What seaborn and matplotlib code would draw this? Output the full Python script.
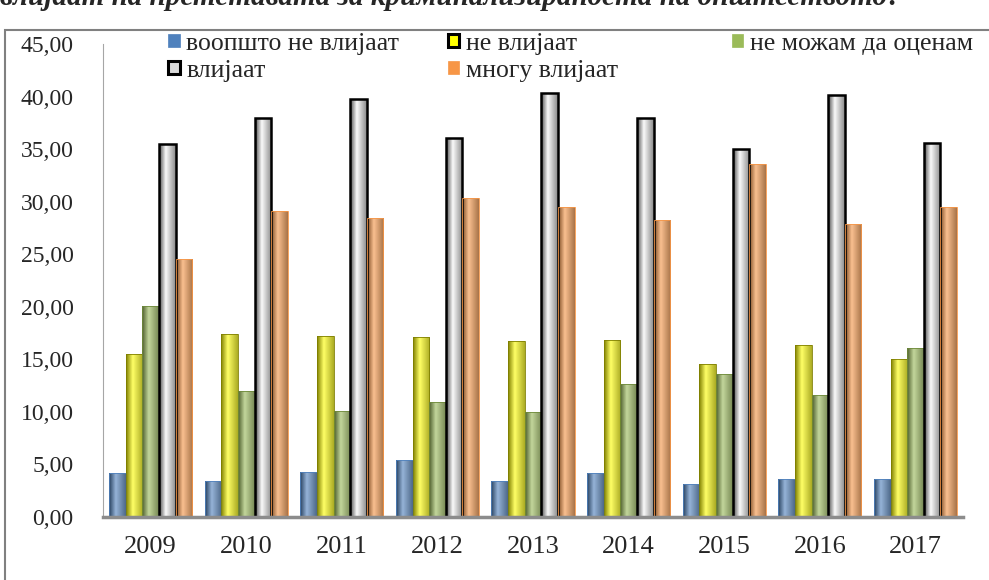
import numpy as np
import pandas as pd
import matplotlib.pyplot as plt
import matplotlib.colors as mcolors
from matplotlib.patches import Patch, Rectangle
import seaborn as sns

# data
years = ['2009', '2010', '2011', '2012', '2013', '2014', '2015', '2016', '2017']
categories = ['воопшто не влијаат', 'не влијаат', 'не можам да оценам', 'влијаат', 'многу влијаат']
vopsto_ne = [4.2, 3.4, 4.3, 5.4, 3.4, 4.2, 3.1, 3.6, 3.6]
ne_vlijaat = [15.5, 17.4, 17.2, 17.1, 16.7, 16.8, 14.5, 16.4, 15.0]
ne_mozam = [20.1, 12.0, 10.1, 10.9, 10.0, 12.6, 13.6, 11.6, 16.1]
vlijaat = [35.5, 38.0, 39.8, 36.1, 40.3, 38.0, 35.0, 40.2, 35.6]
mnogu = [24.5, 29.1, 28.4, 30.3, 29.5, 28.3, 33.6, 27.9, 29.5]

colors = ['#4F81BD', '#FFFF00', '#9BBB59', '#D9D9D9', '#F79646']
edges = ['#4F81BD', '#7F7F00', '#6E8A3A', '#000000', '#F79646']

rows = []
for cat, vals in zip(categories, [vopsto_ne, ne_vlijaat, ne_mozam, vlijaat, mnogu]):
    for y, v in zip(years, vals):
        rows.append({'year': y, 'category': cat, 'value': v})
df = pd.DataFrame(rows)

sns.set_style('white')
plt.rcParams['font.family'] = ['Liberation Serif', 'DejaVu Serif']
serif = {'family': ['Liberation Serif', 'DejaVu Serif'], 'size': 18.5}

fig = plt.figure(figsize=(9.89, 5.80), dpi=100)
ax = fig.add_axes([0.104, 0.109, 0.870, 0.815])

sns.barplot(data=df, x='year', y='value', hue='category', hue_order=categories,
            palette=colors, width=0.87, ax=ax, legend=False, saturation=1)

# cylinder-like shading for each bar
for cont, col, ec in zip(ax.containers, colors, edges):
    c = np.array(mcolors.to_rgb(col))
    if col == '#D9D9D9':
        c = np.array([0.97, 0.97, 0.97])
        dark = np.array([0.3, 0.3, 0.3])
    else:
        dark = c * 0.5
    light = c + (1 - c) * 0.4
    xs = np.linspace(0, 1, 60)
    prof = np.interp(xs, [0, 0.4, 1], [0, 1, 0.35])
    grad = dark[None, :] * (1 - prof[:, None]) + light[None, :] * prof[:, None]
    for bar in cont:
        x0, w, h = bar.get_x(), bar.get_width(), bar.get_height()
        im = ax.imshow(grad[None, :, :], extent=[x0, x0 + w, 0, h], aspect='auto',
                       zorder=bar.get_zorder() + 0.1)
        im.set_clip_path(bar)
        lw = 1.8 if col == '#D9D9D9' else 0.6
        ax.add_patch(Rectangle((x0, 0), w, h, fill=False, edgecolor=ec,
                               linewidth=lw, zorder=bar.get_zorder() + 0.2))

ax.set_xlim(-0.5, len(years) - 0.5)
ax.set_ylim(0, 45)
ax.set_yticks(np.arange(0, 46, 5))
ax.set_yticklabels([f'{v:.2f}'.replace('.', ',') for v in np.arange(0, 46, 5)], fontsize=17)
ax.tick_params(axis='x', labelsize=19, length=0, pad=14)
ax.tick_params(axis='y', length=0, pad=21)
ax.set_xlabel('')
ax.set_ylabel('')
for s in ['top', 'right']:
    ax.spines[s].set_visible(False)
ax.spines['left'].set_color('#A6A6A6')
ax.spines['bottom'].set_color('#8C8C8C')
ax.spines['bottom'].set_linewidth(2.5)


def handle(i):
    boxed = i in (1, 3)
    return Patch(facecolor=colors[i], edgecolor=('#000000' if boxed else colors[i]),
                 linewidth=(2.2 if boxed else 0.5))


# legend: first row blue, yellow, green; second row gray, orange
order = [0, 3, 1, 4]
fig.legend([handle(i) for i in order], [categories[i] for i in order],
           loc='upper left', bbox_to_anchor=(0.157, 0.966), ncol=2, frameon=False,
           prop=serif, handlelength=0.45, handleheight=0.45, handletextpad=0.25,
           columnspacing=1.9, labelspacing=0.2, borderpad=0)
fig.legend([handle(2)], [categories[2]], loc='upper left', bbox_to_anchor=(0.727, 0.966),
           frameon=False, prop=serif, handlelength=0.45, handleheight=0.45,
           handletextpad=0.25, borderpad=0)

# outer chart border
fig.patches.append(Rectangle((5 / 989, -0.02), 1.0, 0.968, transform=fig.transFigure,
                             fill=False, edgecolor='#808080', linewidth=1.5))

# title, cut off at the top edge as in the source
fig.text(0.0, 0.991, 'влијаат на претставата за криминализираноста на општеството?',
         fontsize=21, fontweight='bold', fontstyle='italic', va='baseline', ha='left')

fig.savefig('out.png', dpi=100)
